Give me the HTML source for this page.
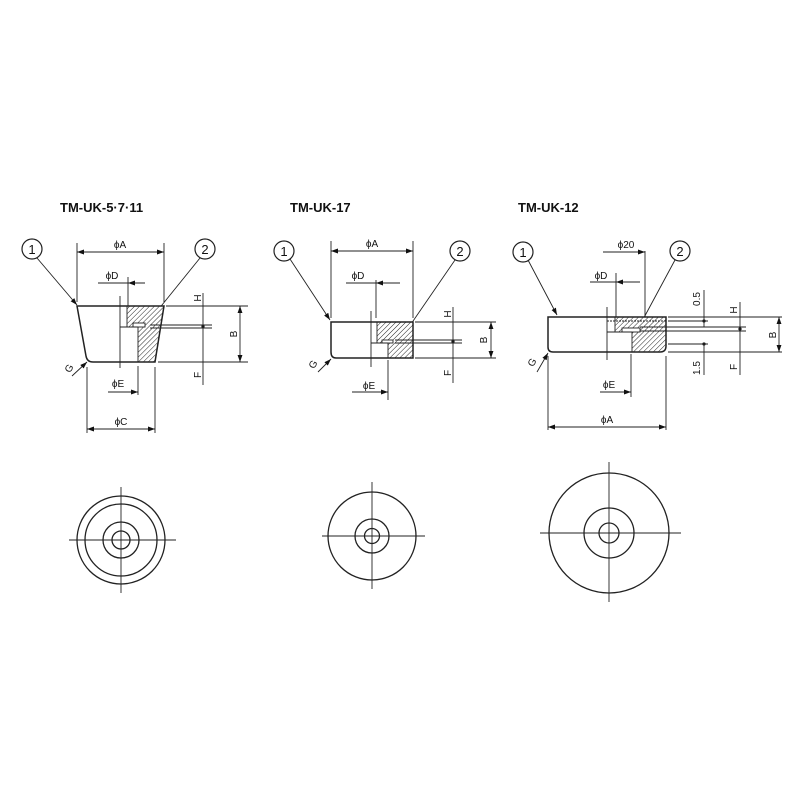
<!DOCTYPE html>
<html><head><meta charset="utf-8"><style>
html,body{margin:0;padding:0;background:#fff}
svg{display:block}
text{font-family:"Liberation Sans",Arial,sans-serif;fill:#111}
</style></head><body>
<svg width="800" height="800" viewBox="0 0 800 800" xmlns="http://www.w3.org/2000/svg">
<defs>
<pattern id="h" patternUnits="userSpaceOnUse" width="3.5" height="3.5" patternTransform="rotate(45)">
<rect width="3.5" height="3.5" fill="#fff"/><line x1="0" y1="0" x2="0" y2="3.5" stroke="#222" stroke-width="1"/>
</pattern>
<marker id="a" viewBox="0 0 10 10" refX="10" refY="5" markerWidth="7" markerHeight="7" orient="auto-start-reverse" markerUnits="userSpaceOnUse"><path d="M0,1.5 L10,5 L0,8.5 z" fill="#111"/></marker>
</defs>
<g stroke="#222" fill="none" stroke-width="0.9">

<!-- ===== Drawing 1 ===== -->
<text x="60" y="212" font-size="13" font-weight="bold" stroke="none">TM-UK-5·7·11</text>
<circle cx="32" cy="249" r="10" stroke-width="1.2"/>
<text x="32" y="254" font-size="13" stroke="none" text-anchor="middle">1</text>
<circle cx="205" cy="249" r="10" stroke-width="1.2"/>
<text x="205" y="254" font-size="13" stroke="none" text-anchor="middle">2</text>
<line x1="37" y1="258" x2="77" y2="305" marker-end="url(#a)"/>
<line x1="200" y1="258" x2="145" y2="326" marker-end="url(#a)"/>
<path d="M127,306 L164,306 L155,362 L138,362 L138,327 L127,327 Z" fill="url(#h)" stroke="none"/>
<rect x="133" y="323" width="12" height="4" fill="#fff" stroke="#222"/>
<path d="M77,306 L164,306 L155,362 L93,362 Q87,362 86,356 Z" stroke-width="1.5"/>
<line x1="127" y1="306" x2="127" y2="327"/>
<line x1="120" y1="327" x2="138" y2="327"/>
<line x1="138" y1="327" x2="138" y2="362"/>
<line x1="120" y1="296" x2="120" y2="368"/>
<line x1="128" y1="277" x2="128" y2="306"/>
<line x1="77" y1="243" x2="77" y2="302"/><line x1="164" y1="243" x2="164" y2="302"/>
<line x1="77" y1="252" x2="164" y2="252" marker-start="url(#a)" marker-end="url(#a)"/>
<text x="120" y="248" font-size="10" stroke="none" text-anchor="middle">ϕA</text>
<line x1="98" y1="283" x2="128" y2="283"/>
<line x1="145" y1="283" x2="128" y2="283" marker-end="url(#a)"/>
<text x="112" y="279" font-size="10" stroke="none" text-anchor="middle">ϕD</text>
<line x1="166" y1="306" x2="248" y2="306"/>
<line x1="158" y1="362" x2="248" y2="362"/>
<line x1="150" y1="325" x2="212" y2="325"/>
<line x1="150" y1="328" x2="212" y2="328"/>
<line x1="240" y1="306" x2="240" y2="362" marker-start="url(#a)" marker-end="url(#a)"/>
<text transform="translate(237,334) rotate(-90)" font-size="10" stroke="none" text-anchor="middle">B</text>
<line x1="203" y1="293" x2="203" y2="385"/>
<circle cx="203" cy="326.5" r="1.2" fill="#111"/>
<text transform="translate(201,298) rotate(-90)" font-size="10" stroke="none" text-anchor="middle">H</text>
<text transform="translate(201,375) rotate(-90)" font-size="10" stroke="none" text-anchor="middle">F</text>
<line x1="72" y1="376" x2="87" y2="362" marker-end="url(#a)"/>
<text transform="translate(72,370) rotate(-60)" font-size="10" stroke="none" text-anchor="middle">G</text>
<line x1="138" y1="366" x2="138" y2="395"/>
<line x1="108" y1="392" x2="138" y2="392" marker-end="url(#a)"/>
<text x="118" y="387" font-size="10" stroke="none" text-anchor="middle">ϕE</text>
<line x1="87" y1="367" x2="87" y2="433"/><line x1="155" y1="367" x2="155" y2="433"/>
<line x1="87" y1="429" x2="155" y2="429" marker-start="url(#a)" marker-end="url(#a)"/>
<text x="121" y="425" font-size="10" stroke="none" text-anchor="middle">ϕC</text>

<!-- ===== Drawing 2 ===== -->
<text x="290" y="212" font-size="13" font-weight="bold" stroke="none">TM-UK-17</text>
<circle cx="284" cy="251" r="10" stroke-width="1.2"/>
<text x="284" y="256" font-size="13" stroke="none" text-anchor="middle">1</text>
<circle cx="460" cy="251" r="10" stroke-width="1.2"/>
<text x="460" y="256" font-size="13" stroke="none" text-anchor="middle">2</text>
<line x1="290" y1="259" x2="330" y2="320" marker-end="url(#a)"/>
<line x1="455" y1="260" x2="400" y2="340" marker-end="url(#a)"/>
<path d="M377,322 L413,322 L413,358 L388,358 L388,343 L377,343 Z" fill="url(#h)" stroke="none"/>
<rect x="382" y="340" width="11" height="3" fill="#fff" stroke="#222"/>
<path d="M331,322 L413,322 L413,358 L336,358 Q331,358 331,352 Z" stroke-width="1.5"/>
<line x1="377" y1="322" x2="377" y2="343"/>
<line x1="371" y1="343" x2="388" y2="343"/>
<line x1="388" y1="343" x2="388" y2="358"/>
<line x1="371" y1="311" x2="371" y2="367"/>
<line x1="331" y1="241" x2="331" y2="318"/><line x1="413" y1="241" x2="413" y2="318"/>
<line x1="331" y1="251" x2="413" y2="251" marker-start="url(#a)" marker-end="url(#a)"/>
<text x="372" y="247" font-size="10" stroke="none" text-anchor="middle">ϕA</text>
<line x1="376" y1="280" x2="376" y2="318"/>
<line x1="346" y1="283" x2="376" y2="283"/>
<line x1="400" y1="283" x2="376" y2="283" marker-end="url(#a)"/>
<text x="358" y="279" font-size="10" stroke="none" text-anchor="middle">ϕD</text>
<line x1="415" y1="322" x2="496" y2="322"/>
<line x1="415" y1="358" x2="496" y2="358"/>
<line x1="395" y1="340" x2="462" y2="340"/>
<line x1="395" y1="343" x2="462" y2="343"/>
<line x1="491" y1="322" x2="491" y2="358" marker-start="url(#a)" marker-end="url(#a)"/>
<text transform="translate(487,340) rotate(-90)" font-size="10" stroke="none" text-anchor="middle">B</text>
<line x1="453" y1="307" x2="453" y2="383"/>
<circle cx="453" cy="341.5" r="1.2" fill="#111"/>
<text transform="translate(451,314) rotate(-90)" font-size="10" stroke="none" text-anchor="middle">H</text>
<text transform="translate(451,373) rotate(-90)" font-size="10" stroke="none" text-anchor="middle">F</text>
<line x1="318" y1="372" x2="331" y2="359" marker-end="url(#a)"/>
<text transform="translate(316,366) rotate(-60)" font-size="10" stroke="none" text-anchor="middle">G</text>
<line x1="388" y1="360" x2="388" y2="400"/>
<line x1="352" y1="392" x2="388" y2="392" marker-end="url(#a)"/>
<text x="369" y="389" font-size="10" stroke="none" text-anchor="middle">ϕE</text>

<!-- ===== Drawing 3 ===== -->
<text x="518" y="212" font-size="13" font-weight="bold" stroke="none">TM-UK-12</text>
<circle cx="523" cy="252" r="10" stroke-width="1.2"/>
<text x="523" y="257" font-size="13" stroke="none" text-anchor="middle">1</text>
<circle cx="680" cy="251" r="10" stroke-width="1.2"/>
<text x="680" y="256" font-size="13" stroke="none" text-anchor="middle">2</text>
<line x1="528" y1="260" x2="557" y2="315" marker-end="url(#a)"/>
<line x1="675" y1="260" x2="640" y2="325" marker-end="url(#a)"/>
<path d="M615,317 L666,317 L666,346 Q664,352 658,352 L632,352 L632,332 L615,332 Z" fill="url(#h)" stroke="none"/>
<rect x="622" y="328" width="18" height="4" fill="#fff" stroke="#222"/>
<path d="M548,317 L666,317 L666,346 Q666,352 660,352 L553,352 Q548,352 548,347 Z" stroke-width="1.5"/>
<line x1="607" y1="321" x2="666" y2="321" stroke-dasharray="2,1"/>
<line x1="615" y1="317" x2="615" y2="332"/>
<line x1="607" y1="332" x2="632" y2="332"/>
<line x1="632" y1="332" x2="632" y2="352"/>
<line x1="607" y1="307" x2="607" y2="360"/>
<line x1="645" y1="251" x2="645" y2="317"/>
<line x1="603" y1="252" x2="645" y2="252" marker-end="url(#a)"/>
<text x="626" y="248" font-size="10" stroke="none" text-anchor="middle">ϕ20</text>
<line x1="616" y1="273" x2="616" y2="317"/>
<line x1="590" y1="282" x2="616" y2="282"/>
<line x1="640" y1="282" x2="616" y2="282" marker-end="url(#a)"/>
<text x="601" y="279" font-size="10" stroke="none" text-anchor="middle">ϕD</text>
<line x1="668" y1="317" x2="782" y2="317"/>
<line x1="668" y1="321" x2="708" y2="321"/>
<line x1="640" y1="327" x2="746" y2="327"/>
<line x1="640" y1="331" x2="746" y2="331"/>
<line x1="668" y1="344" x2="708" y2="344"/>
<line x1="668" y1="352" x2="782" y2="352"/>
<line x1="704" y1="290" x2="704" y2="327"/>
<line x1="704" y1="344" x2="704" y2="375"/>
<circle cx="704" cy="321" r="1.2" fill="#111"/><circle cx="704" cy="344" r="1.2" fill="#111"/>
<text transform="translate(700,299) rotate(-90)" font-size="10" stroke="none" text-anchor="middle">0.5</text>
<text transform="translate(700,368) rotate(-90)" font-size="10" stroke="none" text-anchor="middle">1.5</text>
<line x1="740" y1="302" x2="740" y2="375"/>
<circle cx="740" cy="329" r="1.2" fill="#111"/>
<text transform="translate(737,310) rotate(-90)" font-size="10" stroke="none" text-anchor="middle">H</text>
<text transform="translate(737,367) rotate(-90)" font-size="10" stroke="none" text-anchor="middle">F</text>
<line x1="779" y1="317" x2="779" y2="352" marker-start="url(#a)" marker-end="url(#a)"/>
<text transform="translate(776,335) rotate(-90)" font-size="10" stroke="none" text-anchor="middle">B</text>
<line x1="537" y1="372" x2="548" y2="353" marker-end="url(#a)"/>
<text transform="translate(535,364) rotate(-60)" font-size="10" stroke="none" text-anchor="middle">G</text>
<line x1="631" y1="354" x2="631" y2="397"/>
<line x1="600" y1="392" x2="631" y2="392" marker-end="url(#a)"/>
<text x="609" y="388" font-size="10" stroke="none" text-anchor="middle">ϕE</text>
<line x1="548" y1="356" x2="548" y2="430"/><line x1="666" y1="356" x2="666" y2="430"/>
<line x1="548" y1="427" x2="666" y2="427" marker-start="url(#a)" marker-end="url(#a)"/>
<text x="607" y="423" font-size="10" stroke="none" text-anchor="middle">ϕA</text>

<!-- ===== Bottom circles ===== -->
<g stroke-width="1.3">
<circle cx="121" cy="540" r="44"/><circle cx="121" cy="540" r="36"/>
<circle cx="121" cy="540" r="18"/><circle cx="121" cy="540" r="9"/>
<circle cx="372" cy="536" r="44"/><circle cx="372" cy="536" r="17"/><circle cx="372" cy="536" r="7.5"/>
<circle cx="609" cy="533" r="60"/><circle cx="609" cy="533" r="25"/><circle cx="609" cy="533" r="10"/>
</g>
<line x1="69" y1="540" x2="176" y2="540"/><line x1="121" y1="487" x2="121" y2="593"/>
<line x1="322" y1="536" x2="425" y2="536"/><line x1="372" y1="482" x2="372" y2="589"/>
<line x1="540" y1="533" x2="681" y2="533"/><line x1="609" y1="462" x2="609" y2="602"/>
</g>
</svg>
</body></html>
